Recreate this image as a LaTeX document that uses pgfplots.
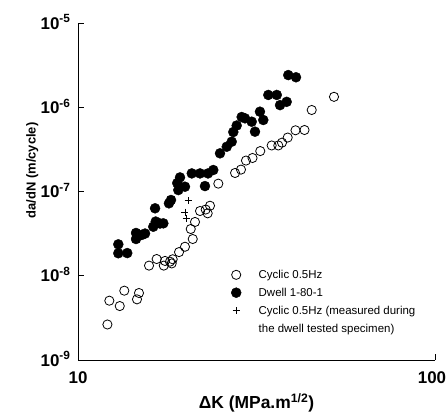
\documentclass[border=0pt]{standalone}
\usepackage{fontspec}
\setmainfont{Liberation Sans}
\usepackage{pgfplots}
\pgfplotsset{compat=1.18}
\usepackage{pgfplotstable}

% cyclic 0.5Hz
\pgfplotstableread{
dk dadn
12.09 2.64e-9
12.24 5.06e-9
13.09 4.37e-9
13.48 6.65e-9
14.63 5.25e-9
14.82 6.24e-9
15.81 1.32e-8
16.61 1.58e-8
17.39 1.32e-8
17.53 1.50e-8
18.10 1.47e-8
18.42 1.57e-8
18.30 1.40e-8
19.19 1.91e-8
19.94 2.21e-8
20.96 2.73e-8
20.69 3.59e-8
21.27 4.35e-8
21.97 5.87e-8
22.79 6.11e-8
23.08 5.51e-8
23.43 6.78e-8
24.72 1.24e-7
27.54 1.66e-7
28.61 1.82e-7
29.55 2.33e-7
30.82 2.50e-7
32.40 3.02e-7
34.88 3.52e-7
36.40 3.52e-7
37.28 3.80e-7
38.68 4.37e-7
40.67 5.33e-7
43.10 5.37e-7
45.15 9.28e-7
52.13 1.33e-6
}\cyclic

% dwell 1-80-1
\pgfplotstableread{
dk dadn
12.97 2.36e-8
12.97 1.85e-8
13.74 1.86e-8
14.54 3.22e-8
14.54 2.73e-8
15.08 3.05e-8
15.41 3.17e-8
16.25 3.82e-8
16.51 4.40e-8
16.97 4.17e-8
17.34 4.19e-8
16.44 6.32e-8
17.98 7.24e-8
18.22 7.93e-8
19.10 1.04e-7
18.97 1.26e-7
19.31 1.47e-7
19.94 1.14e-7
20.83 1.64e-7
21.97 1.64e-7
22.68 1.16e-7
23.13 1.64e-7
23.93 1.80e-7
24.99 2.84e-7
26.10 3.40e-7
26.95 3.90e-7
27.23 5.08e-7
27.83 6.07e-7
28.74 7.66e-7
29.36 7.39e-7
30.66 6.74e-7
31.32 5.13e-7
32.34 8.86e-7
33.04 7.06e-7
34.13 1.40e-6
36.04 1.40e-6
36.81 1.06e-6
38.42 1.16e-6
38.82 2.41e-6
40.80 2.27e-6
}\dwell

% cyclic measured on the dwell specimen
\pgfplotstableread{
dk dadn
20.33 7.82e-8
19.94 5.71e-8
20.07 4.81e-8
}\cycdwell

\begin{document}
\begin{tikzpicture}
\begin{axis}[
  name=ax,
  scale only axis, width=357bp, height=337bp,
  xmode=log, ymode=log, log basis x=10, log basis y=10,
  xmin=10, xmax=100, ymin=1e-9, ymax=1e-5,
  axis lines=left, axis line style={-, line width=0.8bp},
  tick align=inside, major tick length=6bp, minor tick length=3.5bp,
  tick style={line width=0.8bp, black},
  xtick={10,100}, xticklabels={10,\hspace*{-6bp}100},
  ytick={1e-9,1e-8,1e-7,1e-6,1e-5},
  yticklabels={10\textsuperscript{-9},10\textsuperscript{-8},10\textsuperscript{-7},10\textsuperscript{-6},10\textsuperscript{-5}},
  ticklabel style={font=\fontsize{17}{20}\selectfont\bfseries},
  xticklabel style={yshift=-8bp},
  yticklabel style={anchor=base east, yshift=-6bp, xshift=-4bp},
  xlabel={ΔK (MPa.m\textsuperscript{1/2})},
  xlabel style={font=\fontsize{17.5}{20}\selectfont\bfseries, at={(axis description cs:0.5,-0.1276)}, anchor=center},
  ylabel={da/dN (m/cycle)},
  ylabel style={font=\fontsize{13}{15}\selectfont\bfseries, at={(axis description cs:-0.128,0.5623)}, anchor=center},
  legend style={at={(0.4188,0.272)}, anchor=north west, draw=none, fill=none, inner sep=0pt,
    font=\fontsize{11.5}{13}\selectfont, row sep=5.3bp, column sep=16.5bp, nodes={inner sep=1bp}},
  legend cell align=left,
  clip=false,
]
\addplot[only marks, mark=o, mark size=4.6bp, mark options={line width=0.8bp, black}] table[x=dk, y=dadn] {\cyclic};
\addlegendentry{\strut Cyclic 0.5Hz}
\addplot[only marks, mark=*, mark size=5bp, mark options={black, fill=black}] table[x=dk, y=dadn] {\dwell};
\addlegendentry{\strut Dwell 1-80-1}
\addplot[only marks, mark=+, mark size=3.5bp, mark options={line width=0.7bp, black}] table[x=dk, y=dadn] {\cycdwell};
\addlegendentry{\strut Cyclic 0.5Hz (measured during}
\addlegendimage{empty legend}
\addlegendentry{\strut the dwell tested specimen)}
\end{axis}
\pgfresetboundingbox
\path ([xshift=-78bp, yshift=-58bp]ax.south west) rectangle ([xshift=12bp, yshift=23bp]ax.north east);
\end{tikzpicture}
\end{document}
